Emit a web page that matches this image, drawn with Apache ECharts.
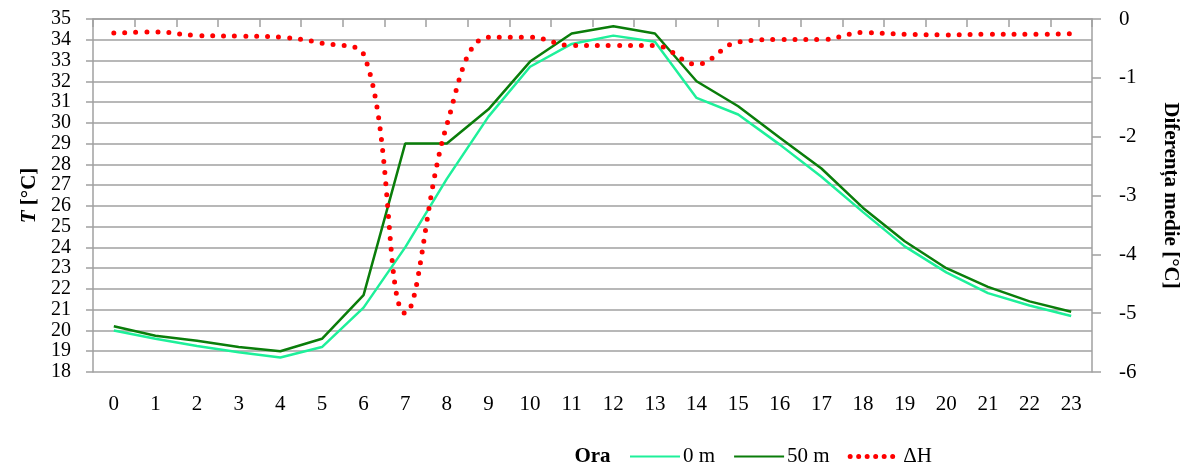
<!DOCTYPE html>
<html>
<head>
<meta charset="utf-8">
<script src="https://cdn.jsdelivr.net/npm/echarts@6/dist/echarts.min.js"></script>
<style>
  html, body { margin: 0; padding: 0; background: #fff; }
  #chart { width: 1186px; height: 471px; }
</style>
</head>
<body>
<div id="chart"></div>
<script>
// ore (axa X)
const hours = ['0','1','2','3','4','5','6','7','8','9','10','11','12','13','14','15','16','17','18','19','20','21','22','23'];
// temperatura la 0 m
const t0m = [20.0, 19.6, 19.25, 18.95, 18.7, 19.2, 21.1, 24.0, 27.3, 30.3, 32.7, 33.8, 34.2, 33.9, 31.2, 30.4, 28.95, 27.4, 25.7, 24.05, 22.8, 21.8, 21.2, 20.7];
// temperatura la 50 m
const t50m = [20.2, 19.75, 19.5, 19.2, 19.0, 19.6, 21.7, 29.0, 29.0, 30.65, 32.95, 34.3, 34.65, 34.3, 32.0, 30.8, 29.28, 27.8, 25.9, 24.3, 23.0, 22.1, 21.4, 20.9];
// diferenta medie
const dH = [-0.24, -0.22, -0.28, -0.29, -0.31, -0.41, -0.6, -5.0, -1.8, -0.31, -0.31, -0.45, -0.45, -0.45, -0.77, -0.39, -0.35, -0.35, -0.23, -0.26, -0.27, -0.26, -0.26, -0.25];

const font = 'Liberation Serif';
const gray = '#a0a0a0';

const myChart = echarts.init(document.getElementById('chart'));
const option = {
  animation: false,
  textStyle: { fontFamily: font },
  grid: { left: 93, right: 94, top: 19, bottom: 99, outerBoundsMode: 'none' },
  legend: {
    data: ['0 m', '50 m', { name: 'ΔH', lineStyle: { width: 5, type: [0, 8.5], cap: 'round' } }],
    left: 624,
    top: 441,
    itemWidth: 50,
    itemHeight: 14,
    itemGap: 18,
    itemStyle: { opacity: 0 },
    textStyle: { fontFamily: font, fontSize: 21, color: '#000', padding: [0, 0, 0, -2] }
  },
  xAxis: {
    type: 'category',
    data: hours,
    boundaryGap: true,
    name: 'Ora',
    nameLocation: 'middle',
    nameGap: 74,
    nameTextStyle: { fontFamily: font, fontSize: 21, fontWeight: 'bold', color: '#000' },
    axisLine: { lineStyle: { color: gray, width: 1.5 } },
    axisTick: { show: true, alignWithLabel: false, length: 8, lineStyle: { color: gray, width: 1.5 } },
    axisLabel: { fontFamily: font, fontSize: 21, color: '#000', margin: 22 }
  },
  yAxis: [
    {
      type: 'value',
      min: 18,
      max: 35,
      interval: 1,
      name: '{i|T} [°C]',
      nameLocation: 'middle',
      nameGap: 51,
      nameTextStyle: {
        fontFamily: font, fontSize: 21, fontWeight: 'bold', color: '#000',
        rich: { i: { fontFamily: font, fontSize: 21, fontWeight: 'bold', fontStyle: 'italic', color: '#000' } }
      },
      axisLine: { show: true, lineStyle: { color: gray, width: 1.5 } },
      axisTick: { show: true, length: 7, lineStyle: { color: gray, width: 1.5 } },
      axisLabel: {
        fontFamily: font, fontSize: 20, lineHeight: 16, color: '#000', margin: 22,
        showMinLabel: true, showMaxLabel: true, hideOverlap: false
      },
      splitLine: { show: true, lineStyle: { color: gray, width: 1.5 } }
    },
    {
      type: 'value',
      min: -6,
      max: 0,
      interval: 1,
      position: 'right',
      name: 'Diferența medie [°C]',
      nameLocation: 'middle',
      nameRotate: -90,
      nameGap: 68,
      nameTextStyle: { fontFamily: font, fontSize: 21, fontWeight: 'bold', color: '#000' },
      axisLine: { show: true, lineStyle: { color: gray, width: 1.5 } },
      axisTick: { show: true, length: 9, lineStyle: { color: gray, width: 1.5 } },
      axisLabel: {
        fontFamily: font, fontSize: 21, color: '#000', margin: 27,
        showMinLabel: true, showMaxLabel: true
      },
      splitLine: { show: false }
    }
  ],
  series: [
    {
      name: '0 m',
      type: 'line',
      data: t0m,
      symbol: 'none',
      itemStyle: { color: '#1ef09a' },
      lineStyle: { color: '#1ef09a', width: 2.5 }
    },
    {
      name: '50 m',
      type: 'line',
      data: t50m,
      symbol: 'none',
      itemStyle: { color: '#0a7d0a' },
      lineStyle: { color: '#0a7d0a', width: 2.5 }
    },
    {
      name: 'ΔH',
      type: 'line',
      yAxisIndex: 1,
      data: dH,
      symbol: 'none',
      smooth: 0.4,
      itemStyle: { color: '#ff0000' },
      lineStyle: { color: '#ff0000', width: 5, type: [0, 11], cap: 'round' }
    }
  ]
};
myChart.setOption(option);
window.addEventListener('resize', () => {
  myChart.resize();
});
</script>
</body>
</html>
